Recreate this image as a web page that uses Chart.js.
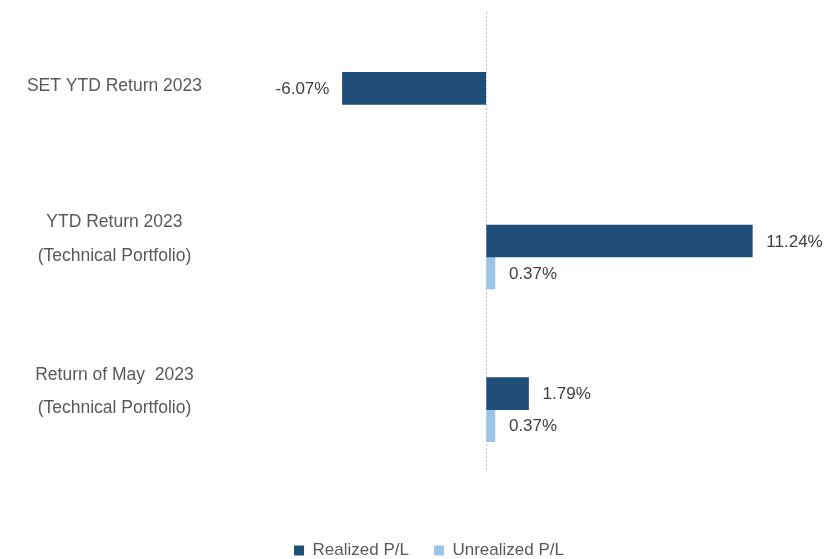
<!DOCTYPE html>
<html><head><meta charset="utf-8">
<script src="https://cdn.jsdelivr.net/npm/chart.js@4/dist/chart.umd.min.js"></script>
<style>html,body{margin:0;padding:0;background:#fff}</style>
</head><body>
<canvas id="c" width="827" height="559"></canvas>
<script>
const categories = [
  'SET YTD Return 2023',
  ['YTD Return 2023', '(Technical Portfolio)'],
  ['Return of May  2023', '(Technical Portfolio)']
];
const realizedPL = [-6.07, 11.24, 1.79];
const unrealizedPL = [null, 0.37, 0.37];
const seriesNames = ['Realized P/L', 'Unrealized P/L'];
const seriesColors = ['#1F4E79', '#9DC3E6'];
const xMin = -12, xMax = 13;

const FONT = '"Liberation Sans", Arial, sans-serif';

const valueLabels = {
  id: 'valueLabels',
  afterLayout(chart) {
    // legend sits right of the canvas centre in the reference
    if (chart.legend) { chart.legend.left += 32; chart.legend.right += 32; }
  },
  afterDatasetsDraw(chart) {
    const ctx = chart.ctx;
    ctx.save();
    ctx.font = '17px ' + FONT;
    ctx.fillStyle = '#404040';
    ctx.textBaseline = 'middle';
    chart.data.datasets.forEach((ds, di) => {
      if (ds.spacer) return;
      const meta = chart.getDatasetMeta(di);
      meta.data.forEach((bar, i) => {
        const v = ds.data[i];
        if (v === null || v === undefined) return;
        const txt = v.toFixed(2) + '%';
        if (v >= 0) { ctx.textAlign = 'left'; ctx.fillText(txt, bar.x + 14, bar.y + 1); }
        else { ctx.textAlign = 'right'; ctx.fillText(txt, bar.x - 13, bar.y + 1); }
      });
    });
    ctx.restore();
  }
};

new Chart(document.getElementById('c'), {
  type: 'bar',
  data: {
    labels: categories,
    datasets: [
      { label: '', spacer: true, data: categories.map(() => null), backgroundColor: 'transparent' },
      { label: seriesNames[0], data: realizedPL, backgroundColor: seriesColors[0] },
      { label: seriesNames[1], data: unrealizedPL, backgroundColor: seriesColors[1] }
    ]
  },
  options: {
    indexAxis: 'y',
    responsive: false,
    animation: false,
    devicePixelRatio: 1,
    datasets: { bar: { barThickness: 32, borderWidth: 0 } },
    layout: { padding: { top: 12, left: 0, right: 33, bottom: -10 } },
    scales: {
      x: {
        min: xMin, max: xMax,
        ticks: { display: false, stepSize: 1 },
        grid: {
          drawTicks: false,
          color: c => (c.tick && c.tick.value === 0) ? '#BFBFBF' : 'rgba(0,0,0,0)',
          lineWidth: 1
        },
        border: { display: false, dash: [2, 2] },
        afterFit: s => { s.height = 47; }
      },
      y: {
        grid: { display: false, drawTicks: false },
        border: { display: false },
        ticks: {
          color: '#595959',
          font: { family: FONT, size: 17.5, lineHeight: 1.92 },
          crossAlign: 'center',
          padding: 0,
          labelOffset: -2
        },
        afterFit: s => { s.width = 202; s.paddingTop = 0; s.paddingBottom = 0; }
      }
    },
    plugins: {
      tooltip: { enabled: false },
      legend: {
        position: 'bottom',
        labels: {
          boxWidth: 10, boxHeight: 10, padding: 25,
          color: '#595959',
          font: { family: FONT, size: 17 },
          filter: item => item.text !== ''
        }
      }
    }
  },
  plugins: [valueLabels]
});
</script>
</body></html>
